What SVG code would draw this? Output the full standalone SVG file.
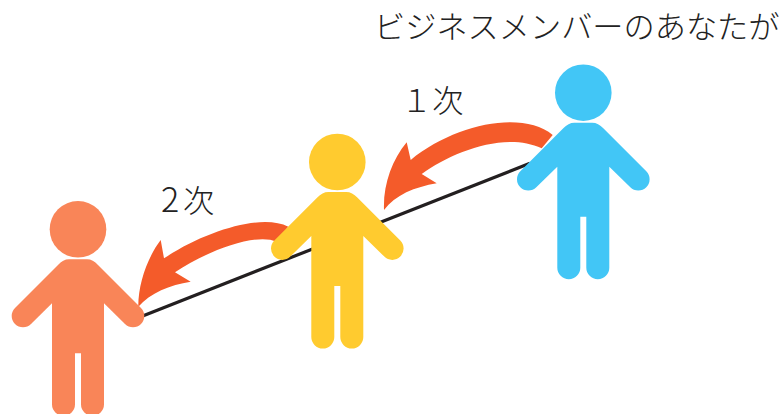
<svg xmlns="http://www.w3.org/2000/svg" width="783" height="414" viewBox="0 0 783 414">
<style>
text{font-family:"Noto Sans CJK JP","Noto Sans",sans-serif;font-size:31.2px;fill:#222;font-weight:300}
.arrow{fill:#f45b2a}
</style>
<defs>
<g id="person">
<circle cx="0" cy="0" r="28.3"/>
<path d="M-9 30H9Q15 30 20 35.6L63 78.6A11.3 11.3 0 0 1 47 94.6L26 74V175A11.5 11.5 0 0 1 3 175V124H-3V175A11.5 11.5 0 0 1 -26 175V74L-47 94.6A11.3 11.3 0 0 1 -63 78.6L-20 35.6Q-15 30 -9 30Z"/>
</g>
</defs>
<rect width="783" height="414" fill="#fff"/>
<g id="connectors">
<line x1="143.3" y1="315.7" x2="530" y2="163.3" stroke="#231f20" stroke-width="3.2"/>
<path class="arrow" d="M552.7 135C522 110 455 124 410.7 160L406.7 142.3C392 160 383 185 384 210C395 195 415 187 436.7 183.3L421.7 174C452 152 505 131 541.7 148.3Z"/>
<path class="arrow" d="M288.3 226.7C262 213 205 231 164 258.3L160.7 240C147 258 138 285 138.3 306.7C150 293 170 285 190.7 281.7L175 272.3C205 252 255 232 276.7 241.7Z"/>
</g>
<g id="person-blue" fill="#42c6f6"><use href="#person" x="583.3" y="92.7"/></g>
<g id="person-yellow" fill="#ffcb2f"><use href="#person" x="337.3" y="162"/></g>
<g id="person-orange" fill="#f98558"><use href="#person" x="78" y="229.3"/></g>
<g id="labels">
<text x="374" y="38">ビジネスメンバーのあなたが</text>
<text x="401" y="112">１次</text>
<text x="161" y="212" style="font-size:34px">2<tspan x="183" style="font-size:31.2px">次</tspan></text>
</g>
</svg>
